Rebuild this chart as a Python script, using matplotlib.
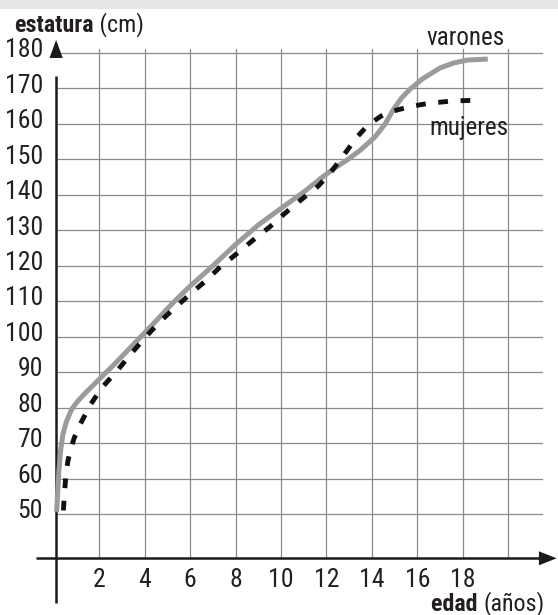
import matplotlib
matplotlib.use("Agg")
import matplotlib.pyplot as plt
from matplotlib.patches import Rectangle
from matplotlib import font_manager as fm

_installed = {f.name for f in fm.fontManager.ttflist}
_prefs = ['Roboto Condensed', 'PT Sans Narrow', 'Archivo Narrow', 'Liberation Sans Narrow',
          'IBM Plex Sans Condensed', 'Fira Sans Condensed', 'Asap Condensed',
          'Encode Sans Condensed', 'Barlow Semi Condensed', 'Roboto']
_fams = [f for f in _prefs if f in _installed] + ['DejaVu Sans']
plt.rcParams['font.family'] = _fams

# ---- data ----
varones_edad = [0.12, 0.17, 0.22, 0.3, 0.4, 0.55, 0.78, 1.05, 1.4, 1.81, 2.2, 2.6, 3.2,
                3.8, 4.3, 5.19, 5.92, 7.0, 8.0, 9.0, 10.0, 11.0, 11.72, 12.3, 12.9, 13.47,
                14.13, 14.58, 14.94, 15.3, 15.68, 16.2, 17.0, 17.6, 18.2, 19.1]
varones_estatura = [50.5, 56, 62, 68, 72.5, 76, 79.5, 81.8, 84.2, 86.8, 89.3, 91.8, 95.8,
                    99.8, 103.1, 109.2, 113.8, 120, 126, 131.5, 136.2, 140.8, 144.5, 147.3, 149.8, 152.5,
                    156.3, 160, 164, 167.3, 169.8, 172.6, 175.8, 177.2, 178, 178.3]

mujeres_edad = [0.42, 0.47, 0.53, 0.62, 0.75, 0.9, 1.15, 1.62, 2.1, 2.84, 3.35, 3.98,
                4.63, 5.3, 6.0, 6.73, 7.31, 8.07, 8.78, 9.51, 10.17, 10.9, 11.64, 12.15,
                12.71, 13.33, 13.7, 13.99, 14.4, 14.8, 15.68, 16.48, 17.58, 18.8]
mujeres_estatura = [51, 56, 61, 65, 68.5, 71.5, 75.2, 80.9, 85.5, 90.8, 94.8, 99.5,
                    104, 108, 112, 116, 119.6, 123.5, 127.3, 131, 134.8, 138.7, 142.5, 146,
                    150.8, 156.2, 158.8, 160.4, 162.2, 163.4, 164.9, 165.8, 166.5, 166.7]

x_tick_labels = [2, 4, 6, 8, 10, 12, 14, 16, 18]
x_grid = [2, 4, 6, 8, 10, 12, 14, 16, 18, 20]
y_tick_labels = [50, 60, 70, 80, 90, 100, 110, 120, 130, 140, 150, 160, 170, 180]

# ---- figure ----
fig = plt.figure(figsize=(5.58, 6.15), dpi=100)
ax = fig.add_axes([0, 0, 1, 1])
ax.set_xlim(-2.370, 22.19)
ax.set_ylim(21.51, 194.95)
ax.axis('off')

fig.patches.append(Rectangle((0, 1 - 8 / 615), 1, 8 / 615, transform=fig.transFigure,
                             color='#e6e6e6', zorder=0))

grid_col = '#8a8a8a'
axis_col = '#1a1a1a'
text_col = '#231f20'
y_axis_base = 37.5

for gx in x_grid:
    ax.plot([gx, gx], [y_axis_base, 181.1], color=grid_col, lw=0.9, zorder=1)
for gy in y_tick_labels:
    ax.plot([0.2, 21.5], [gy, gy], color=grid_col, lw=0.9, zorder=1)

# axes with arrows
ax.plot([-0.8, 21.4], [y_axis_base, y_axis_base], color=axis_col, lw=1.8,
        solid_capstyle='butt', zorder=2)
ax.fill([21.35, 22.13, 21.35], [y_axis_base + 1.97, y_axis_base, y_axis_base - 1.97],
        color=axis_col, lw=0, zorder=2)
ax.plot([0.1, 0.1], [24.9, 173.5], color=axis_col, lw=1.8, solid_capstyle='butt', zorder=2)
ax.fill([0.1 - 0.29, 0.1, 0.1 + 0.29], [178.6, 183.7, 178.6], color=axis_col, lw=0, zorder=2)

# curves
ax.plot(varones_edad, varones_estatura, color='#9b9b9b', lw=3.6,
        solid_capstyle='butt', solid_joinstyle='round', zorder=3)
ax.plot(mujeres_edad, mujeres_estatura, color='#111111', lw=3.5,
        dashes=(2.0, 2.6), dash_capstyle='butt', dash_joinstyle='round', zorder=4)

# tick labels
for v in y_tick_labels:
    ax.text(-0.48, v - 1.2, str(v), ha='right', va='baseline', fontsize=18.5, color=text_col)
for v in x_tick_labels:
    ax.text(v, 29.3, str(v), ha='center', va='baseline', fontsize=18.5, color=text_col)

# titles
t1 = ax.text(-1.75, 185.9, 'estatura', ha='left', va='baseline', fontsize=17.3,
             fontweight='bold', color=text_col)
ax.annotate(' (cm)', xy=(1, 0), xycoords=t1, ha='left', va='bottom', fontsize=17.3,
            color=text_col)
t2 = ax.text(21.6, 22.73, '(años)', ha='right', va='baseline', fontsize=17.3, color=text_col)
ax.annotate('edad ', xy=(0, 0), xycoords=t2, ha='right', va='bottom', fontsize=17.3,
            fontweight='bold', color=text_col)

ax.text(16.42, 182.26, 'varones', ha='left', va='baseline', fontsize=18, color=text_col)
ax.text(16.55, 156.88, 'mujeres', ha='left', va='baseline', fontsize=18, color=text_col)

fig.savefig('out.png', dpi=100)
